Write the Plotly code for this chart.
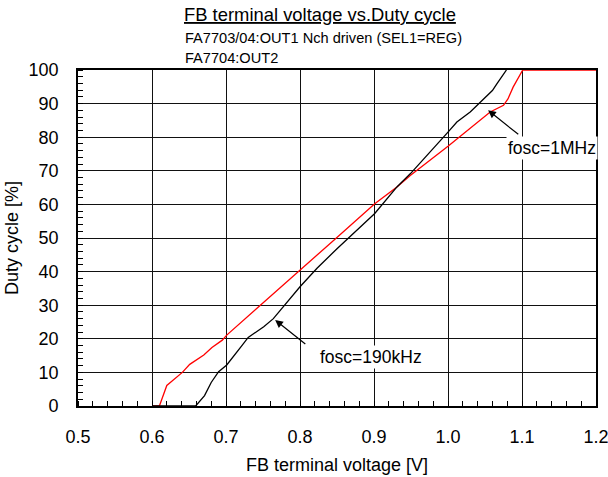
import plotly.graph_objects as go

# FB terminal voltage [V] vs duty cycle [%], fosc = 1 MHz
red_v = [0.600, 0.610, 0.620, 0.641, 0.651, 0.670, 0.681, 0.695, 0.701, 0.750, 0.800,
         0.848, 0.901, 0.931, 0.949, 1.000, 1.057, 1.066, 1.075, 1.081, 1.088, 1.101, 1.200]
red_d = [0, 0, 6.1, 10.0, 12.4, 15.2, 17.4, 19.6, 21.1, 30.6, 40.2,
         49.8, 60.2, 65.2, 68.6, 77.3, 87.5, 88.5, 89.5, 91.4, 94.9, 100, 100]

# fosc = 190 kHz
black_v = [0.600, 0.659, 0.671, 0.680, 0.690, 0.701, 0.722, 0.730, 0.751, 0.764, 0.800,
           0.823, 0.850, 0.865, 0.901, 0.931, 0.949, 1.000, 1.012, 1.030, 1.043, 1.060, 1.066, 1.079]
black_d = [0, 0, 3.1, 7.0, 10.2, 12.2, 18.1, 20.4, 23.6, 26.0, 35.5,
           41.0, 46.8, 49.8, 57.3, 65.2, 69.1, 81.5, 84.5, 87.5, 90.4, 93.9, 95.9, 100]

x_ticks = [0.5, 0.6, 0.7, 0.8, 0.9, 1.0, 1.1, 1.2]
y_ticks = [0, 10, 20, 30, 40, 50, 60, 70, 80, 90, 100]

FONT = "Liberation Sans, Arial, sans-serif"
W, H = 608, 477
L, R, T, B = 78, 11.5, 69.5, 71
PW, PH = W - L - R, H - T - B


def px_x(x):
    """Figure pixel column -> paper x."""
    return (x - L) / PW


def px_y(y):
    """Figure pixel row -> paper y."""
    return (H - B - y) / PH


fig = go.Figure()
fig.add_trace(go.Scatter(x=red_v, y=red_d, mode="lines",
                         line=dict(color="#ff0000", width=1.3), showlegend=False))
fig.add_trace(go.Scatter(x=black_v, y=black_d, mode="lines",
                         line=dict(color="#000000", width=1.3), showlegend=False))

axis_common = dict(
    showgrid=True, gridcolor="#111111", gridwidth=1,
    showline=True, linecolor="black", linewidth=1.6, mirror=True,
    zeroline=False, ticks="", automargin=False, ticklabeloverflow="allow",
    tickfont=dict(family=FONT, size=18, color="black"),
    minor=dict(ticks="inside", ticklen=5, tickcolor="black", tickwidth=1, showgrid=False),
)

fig.update_xaxes(range=[0.5, 1.2], tickvals=x_ticks, ticktext=[f"{v:.1f}" for v in x_ticks],
                 title=dict(text="FB terminal voltage [V]", font=dict(family=FONT, size=18, color="black"),
                            standoff=12),
                 ticklabelstandoff=14, **axis_common)
fig.update_xaxes(minor=dict(dtick=0.02, tick0=0.5))
fig.update_yaxes(range=[0, 100], tickvals=y_ticks, ticktext=[str(v) for v in y_ticks],
                 title=dict(text="Duty cycle [%]", font=dict(family=FONT, size=18, color="black"),
                            standoff=5),
                 ticklabelstandoff=14, **axis_common)
fig.update_yaxes(minor=dict(dtick=2, tick0=0))

# arrows pointing at each curve
fig.add_annotation(x=0.7664, y=25.6, ax=0.8092, ay=18.1, xref="x", yref="y", axref="x", ayref="y",
                   text="", showarrow=True, arrowhead=2, arrowsize=1.3, arrowwidth=1.2, arrowcolor="black")
fig.add_annotation(x=1.0542, y=88.0, ax=1.097, ay=80.5, xref="x", yref="y", axref="x", ayref="y",
                   text="", showarrow=True, arrowhead=2, arrowsize=1.3, arrowwidth=1.2, arrowcolor="black")

fig.add_annotation(x=0.896, y=14.6, xref="x", yref="y", text="fosc=190kHz", showarrow=False,
                   bgcolor="white", font=dict(family=FONT, size=17.5, color="black"))
fig.add_annotation(x=1.140, y=76.7, xref="x", yref="y", text="fosc=1MHz", showarrow=False,
                   bgcolor="white", font=dict(family=FONT, size=17.5, color="black"))

# title and condition lines
fig.add_annotation(x=px_x(320), y=px_y(14), xref="paper", yref="paper", yanchor="middle",
                   text="<u>FB terminal voltage vs.Duty cycle</u>", showarrow=False,
                   font=dict(family=FONT, size=18.4, color="black"))
fig.add_annotation(x=px_x(183), y=px_y(37), xref="paper", yref="paper", xanchor="left", yanchor="middle",
                   text="FA7703/04:OUT1 Nch driven (SEL1=REG)", showarrow=False,
                   font=dict(family=FONT, size=14.6, color="black"))
fig.add_annotation(x=px_x(183), y=px_y(57), xref="paper", yref="paper", xanchor="left", yanchor="middle",
                   text="FA7704:OUT2", showarrow=False,
                   font=dict(family=FONT, size=14.6, color="black"))

fig.update_layout(width=W, height=H, margin=dict(l=L, r=R, t=T, b=B, autoexpand=False),
                  paper_bgcolor="white", plot_bgcolor="white", showlegend=False)

fig.write_html("out.html")
